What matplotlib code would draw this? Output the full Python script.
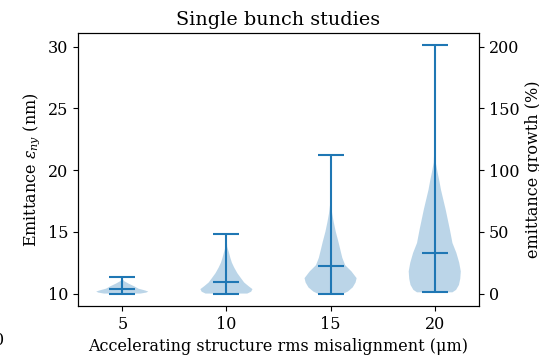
import matplotlib
matplotlib.use("Agg")
import matplotlib.pyplot as plt
import numpy as np

plt.rcParams['font.family'] = 'DejaVu Serif'
plt.rcParams['font.size'] = 11.5
plt.rcParams['mathtext.fontset'] = 'dejavuserif'

# rms misalignment (um)
POSITIONS = [5, 10, 15, 20]

# emittance profile (nm) and relative half width
COORDS_5 = [10.0, 10.08, 10.16, 10.25, 10.4, 10.6, 10.8, 11.0, 11.15, 11.33]
VALS_5 = [0.7, 0.92, 1.0, 0.88, 0.62, 0.45, 0.25, 0.08, 0.02, 0.0]

COORDS_10 = [10.0, 10.15, 10.36, 10.6, 10.9, 11.3, 11.65, 12.1, 12.5, 12.9, 13.3, 13.8, 14.85]
VALS_10 = [0.8, 0.95, 1.0, 0.85, 0.68, 0.54, 0.42, 0.3, 0.21, 0.15, 0.1, 0.03, 0.0]

COORDS_15 = [10.0, 10.16, 10.5, 10.9, 11.25, 11.8, 12.3, 12.9, 13.5, 14.2, 15.0, 15.8, 16.5, 17.2, 18.5, 21.26]
VALS_15 = [0.5, 0.66, 0.85, 0.96, 1.0, 0.8, 0.56, 0.45, 0.38, 0.3, 0.2, 0.12, 0.06, 0.02, 0.005, 0.0]

COORDS_20 = [10.1, 10.3, 10.7, 11.2, 11.8, 12.5, 13.3, 14.1, 15.2, 16.0, 16.8, 17.6, 18.4, 19.2, 19.8, 20.6, 22.0, 30.1]
VALS_20 = [0.68, 0.82, 0.93, 0.98, 1.0, 0.94, 0.83, 0.68, 0.58, 0.5, 0.42, 0.33, 0.24, 0.17, 0.11, 0.04, 0.008, 0.0]

MEDIANS = [10.36, 10.9, 12.25, 13.28]

BASE_EMITTANCE = 10.0


def make_stats(coords, vals, median):
	return {
		"coords": np.array(coords),
		"vals": np.array(vals),
		"mean": median,
		"median": median,
		"min": coords[0],
		"max": coords[-1],
	}


def plot():
	fig = plt.figure(figsize=(5.39, 3.57), dpi=100)
	ax = fig.add_axes([0.1447, 0.1429, 0.744, 0.7647])

	stats = [
		make_stats(COORDS_5, VALS_5, MEDIANS[0]),
		make_stats(COORDS_10, VALS_10, MEDIANS[1]),
		make_stats(COORDS_15, VALS_15, MEDIANS[2]),
		make_stats(COORDS_20, VALS_20, MEDIANS[3]),
	]
	ax.violin(stats, positions=POSITIONS, widths=2.5, showmedians=True)

	ax.set_xticks(POSITIONS)
	ax.set_yticks([10, 15, 20, 25, 30])
	ax.set_title("Single bunch studies")
	ax.set_xlabel("Accelerating structure rms misalignment (μm)")
	ax.set_ylabel(r"Emittance $\varepsilon_{ny}$ (nm)")

	# 右軸は基準エミッタンスからの増加率
	ax2 = ax.twinx()
	lo, hi = ax.get_ylim()
	ax2.set_ylim((lo / BASE_EMITTANCE - 1) * 100, (hi / BASE_EMITTANCE - 1) * 100)
	ax2.set_yticks([0, 50, 100, 150, 200])
	ax2.set_ylabel("emittance growth (%)")

	fig.text(0.007, 0.045, "0", ha="right", va="center", fontsize=11.5)

	fig.savefig("out.png", dpi=100)


if __name__ == '__main__':
	plot()
